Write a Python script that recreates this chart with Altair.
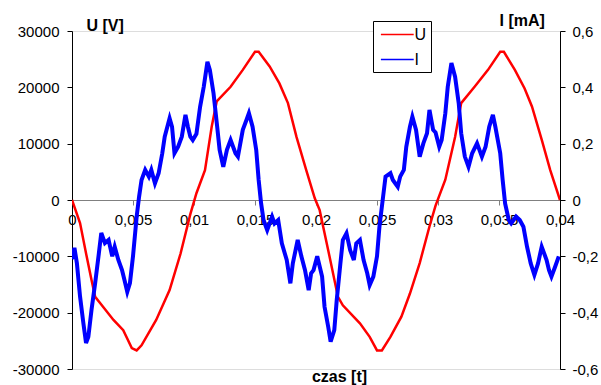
import altair as alt
import pandas as pd

# U [V] trace
u_t = [0, 0.00066, 0.0012, 0.0016, 0.0019, 0.0023, 0.0034, 0.0042, 0.0049, 0.0053,
       0.0057, 0.0069, 0.0080, 0.0089, 0.0097, 0.0102, 0.0109, 0.01145, 0.01186, 0.0130,
       0.0140, 0.0150, 0.0153, 0.0162, 0.0170, 0.0177, 0.0184, 0.0192, 0.0199, 0.0203,
       0.0210, 0.0218, 0.0222, 0.0236, 0.0244, 0.0250, 0.0254, 0.0261, 0.0270, 0.0277,
       0.0285, 0.0293, 0.0298, 0.0306, 0.0314, 0.0319, 0.0330, 0.0341, 0.0351, 0.0354,
       0.0363, 0.0371, 0.0377, 0.0385, 0.0392, 0.0400]
u_v = [0, -4100, -10000, -14200, -17200, -18300, -21300, -23100, -26300, -26700,
       -25800, -21300, -16000, -9500, -2500, 1200, 5300, 13000, 17500, 20100,
       23100, 26300, 26300, 23700, 20700, 17200, 11200, 5300, 300, -1800,
       -8900, -17200, -18700, -21900, -24300, -26700, -26700, -24300, -20700, -16600,
       -11200, -4700, -1000, 3600, 11200, 17200, 20100, 23100, 26300, 26300,
       23100, 19800, 16600, 10700, 5300, 0]

# I [mA] trace
i_t = [0, 0.0002, 0.0004, 0.00066, 0.00093, 0.00115, 0.00134, 0.0016, 0.0019, 0.0022,
       0.0024, 0.0027, 0.0030, 0.0033, 0.0035, 0.0038, 0.0041, 0.0043, 0.00453, 0.00475,
       0.0050, 0.0053, 0.0055, 0.0057, 0.0060, 0.0063, 0.0065, 0.0068, 0.0071, 0.0074,
       0.0076, 0.0080, 0.0082, 0.0084, 0.0087, 0.0090, 0.0093, 0.0095, 0.0097, 0.0099,
       0.0102, 0.0105, 0.0108, 0.0111, 0.0113, 0.0116, 0.0119, 0.0121, 0.0124, 0.0127,
       0.0130, 0.0134, 0.0136, 0.0140, 0.0143, 0.0145, 0.0148, 0.0151, 0.0153, 0.0155,
       0.0157, 0.0160, 0.0164, 0.0166, 0.0169, 0.0172, 0.0176, 0.0179, 0.0181, 0.0185,
       0.0188, 0.0191, 0.0194, 0.0196, 0.0198, 0.0201, 0.0205, 0.0207, 0.0210, 0.0212,
       0.0215, 0.0217, 0.0220, 0.0222, 0.0225, 0.0228, 0.0231, 0.0233, 0.0236, 0.0239,
       0.0242, 0.0244, 0.0247, 0.0250, 0.0252, 0.0255, 0.0257, 0.0261, 0.0263, 0.0267,
       0.0269, 0.0272, 0.0274, 0.0277, 0.0279, 0.0282, 0.0285, 0.0288, 0.0291, 0.0293,
       0.0296, 0.0298, 0.0301, 0.0303, 0.0306, 0.0308, 0.0311, 0.0314, 0.0317, 0.0319,
       0.0322, 0.0325, 0.0328, 0.0332, 0.0336, 0.0339, 0.0342, 0.0345, 0.0347, 0.0351,
       0.0353, 0.0355, 0.0358, 0.0360, 0.0364, 0.0367, 0.0370, 0.0373, 0.0376, 0.0379,
       0.0382, 0.0385, 0.0389, 0.0391, 0.0393, 0.0396, 0.0399]
i_v = [-0.21, -0.17, -0.224, -0.343, -0.437, -0.508, -0.486, -0.39, -0.295, -0.19,
       -0.117, -0.153, -0.142, -0.2, -0.166, -0.213, -0.249, -0.284, -0.326, -0.295,
       -0.2, -0.059, 0.012, 0.071, 0.107, 0.083, 0.107, 0.059, 0.095, 0.166,
       0.225, 0.29, 0.26, 0.166, 0.189, 0.225, 0.302, 0.26, 0.225, 0.213,
       0.235, 0.331, 0.402, 0.491, 0.462, 0.379, 0.26, 0.178, 0.118, 0.178,
       0.213, 0.166, 0.154, 0.249, 0.284, 0.308, 0.26, 0.178, 0.071, -0.012,
       -0.071, -0.107, -0.059, -0.083, -0.071, -0.154, -0.213, -0.296, -0.225, -0.142,
       -0.2, -0.249, -0.32, -0.26, -0.249, -0.2, -0.272, -0.379, -0.45, -0.503,
       -0.462, -0.355, -0.225, -0.142, -0.118, -0.178, -0.213, -0.154, -0.142, -0.213,
       -0.26, -0.302, -0.272, -0.2, -0.095, 0.012, 0.083, 0.095, 0.071, 0.047,
       0.083, 0.107, 0.189, 0.26, 0.296, 0.249, 0.154, 0.201, 0.237, 0.32,
       0.249, 0.24, 0.189, 0.213, 0.308, 0.402, 0.486, 0.438, 0.343, 0.237,
       0.154, 0.118, 0.166, 0.201, 0.154, 0.189, 0.26, 0.302, 0.26, 0.166,
       0.071, -0.012, -0.071, -0.083, -0.059, -0.071, -0.095, -0.166, -0.225, -0.266,
       -0.225, -0.166, -0.213, -0.249, -0.272, -0.237, -0.2]

x_ticks = [0, 0.005, 0.01, 0.015, 0.02, 0.025, 0.03, 0.035, 0.04]
u_ticks = [-30000, -20000, -10000, 0, 10000, 20000, 30000]
i_ticks = [-0.6, -0.4, -0.2, 0, 0.2, 0.4, 0.6]
series = ["U", "I"]
colors = ["#FF0000", "#0000FF"]

df_u = pd.DataFrame({"t": u_t, "v": u_v, "s": "U"})
df_i = pd.DataFrame({"t": i_t, "v": i_v, "s": "I"})

FONT = "Liberation Sans"

color = alt.Color(
    "s:N",
    scale=alt.Scale(domain=series, range=colors),
    legend=alt.Legend(
        title=None, orient="none", legendX=301, legendY=-10,
        symbolType="M-0.7,0L3.4,0", symbolSize=256, symbolStrokeWidth=1.5,
        labelFontSize=16, labelFont=FONT, labelColor="black", labelOffset=19,
        rowPadding=8, padding=4.5, strokeColor="black", fillColor="white",
        cornerRadius=0,
    ),
)

xscale = alt.Scale(domain=[0, 0.04], nice=False, zero=False)
xaxis = alt.Axis(values=x_ticks, offset=-169, grid=False,
                 domainColor="#808080", tickColor="#808080", tickSize=5,
                 labelExpr="replace('' + round(datum.value*1000)/1000, '.', ',')",
                 labelFont=FONT, labelFontSize=15, labelColor="black",
                 labelPadding=7, labelFlush=False, labelOverlap=False,
                 title="czas [t]", titleFont=FONT, titleFontSize=16,
                 titleFontWeight="bold", titleAnchor="start", titleAlign="center",
                 titleX=267, titleY=181, titleBaseline="alphabetic")
x_enc = alt.X("t:Q", scale=xscale, axis=xaxis)

line_u = alt.Chart(df_u).mark_line(strokeWidth=2.5, clip=True).encode(
    x=x_enc,
    y=alt.Y("v:Q", scale=alt.Scale(domain=[-30000, 30000], nice=False),
            axis=alt.Axis(values=u_ticks, orient="left", grid=False,
                          domainColor="black", tickColor="black", tickSize=5,
                          labelExpr="'' + datum.value",
                          labelFont=FONT, labelFontSize=15, labelColor="black",
                          labelPadding=8,
                          title="U [V]", titleFont=FONT, titleFontSize=16,
                          titleFontWeight="bold", titleAngle=0, titleAlign="left",
                          titleX=14, titleY=-1, titleBaseline="alphabetic")),
    color=color,
    order=alt.Order("t:Q"),
)

line_i = alt.Chart(df_i).mark_line(strokeWidth=4, clip=True).encode(
    x=x_enc,
    y=alt.Y("v:Q", scale=alt.Scale(domain=[-0.6, 0.6], nice=False),
            axis=alt.Axis(values=i_ticks, orient="right", grid=False,
                          domainColor="black", tickColor="black", tickSize=5,
                          labelExpr="replace('' + round(datum.value*10)/10, '.', ',')",
                          labelFont=FONT, labelFontSize=15, labelColor="black",
                          labelPadding=7,
                          title="I [mA]", titleFont=FONT, titleFontSize=16,
                          titleFontWeight="bold", titleAngle=0, titleAlign="left",
                          titleX=-61, titleY=-6, titleBaseline="alphabetic")),
    color=color,
    order=alt.Order("t:Q"),
)

chart = alt.layer(line_u, line_i).resolve_scale(y="independent").properties(
    width=488, height=338,
    autosize=alt.AutoSizeParams(type="none"),
    padding={"left": 72, "top": 31, "right": 41, "bottom": 16},
).configure_view(stroke=None).configure(background="white")

chart.save("out.html", embed_options={"renderer": "svg", "actions": False})
